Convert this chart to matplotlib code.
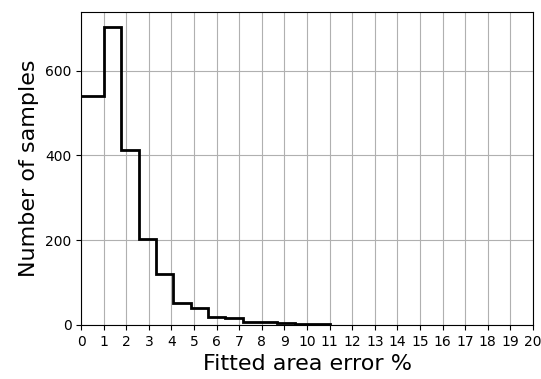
import matplotlib
matplotlib.use("Agg")
import matplotlib.pyplot as plt
from matplotlib.ticker import MultipleLocator

# Histogram of fitted area error (bin edges in %, counts per bin)
bin_edges = [-0.54, 1.0, 1.77, 2.54, 3.31, 4.08, 4.85, 5.62, 6.38, 7.15,
             7.92, 8.69, 9.46, 10.23, 11.0]
counts = [541, 703, 414, 204, 120, 52, 39, 18, 16, 7, 6, 5, 3, 2]
x_ticks = list(range(0, 21))

fig = plt.figure(figsize=(5.41, 3.79), dpi=100)
ax = fig.add_subplot(111)
fig.subplots_adjust(left=0.15, right=0.985, top=0.968, bottom=0.1425)

ax.stairs(counts, bin_edges, color='black', linewidth=2, baseline=0)
ax.set_xlim(0, 20)
ax.set_xticks(x_ticks)
ax.yaxis.set_major_locator(MultipleLocator(200))
ax.tick_params(labelsize=10)
ax.set_xlabel('Fitted area error %', fontsize=16)
ax.set_ylabel('Number of samples', fontsize=16)
ax.grid(True, color='#b0b0b0', linewidth=0.8)
ax.set_axisbelow(True)

plt.savefig('out.png', dpi=100)
